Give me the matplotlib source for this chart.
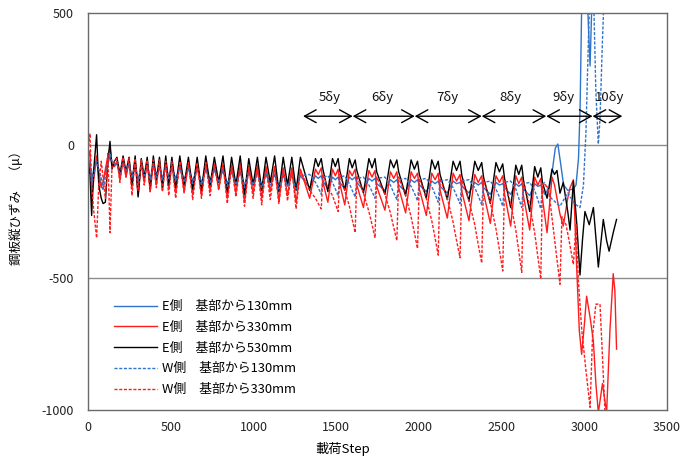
import matplotlib
matplotlib.use("Agg")
import matplotlib.pyplot as plt

plt.rcParams['font.family'] = ['Noto Sans CJK JP', 'DejaVu Sans']
plt.rcParams['axes.unicode_minus'] = False

# ---- loading steps: early small-amplitude cycles (shared by all gauges) ----
steps_early = [0, 12, 22, 35, 52, 65, 80, 91, 105, 120, 133, 145, 160,
               175, 193, 212, 230, 248, 266, 285, 303, 322, 340, 358, 376, 395, 413, 432, 450, 470, 488, 507, 530,
               555, 581, 607, 633, 660, 686, 712, 738, 764, 790, 816, 842, 868, 894, 920, 946, 972, 998,
               1024, 1050, 1076, 1102, 1128, 1154, 1180, 1206, 1232, 1258, 1284]

# ---- loading steps: 5δy–8δy cycles ----
steps_cyc = [1340, 1375, 1392, 1410, 1420,
             1450, 1478, 1495, 1512, 1522,
             1552, 1580, 1597, 1615, 1625,
             1665, 1698, 1717, 1735, 1745,
             1795, 1828, 1848, 1867, 1878,
             1920, 1953, 1973, 1992, 2003,
             2045, 2078, 2098, 2117, 2128,
             2172, 2207, 2228, 2249, 2260,
             2303, 2338, 2359, 2380, 2391,
             2432, 2466, 2487, 2507, 2518,
             2555, 2586, 2604, 2622, 2632,
             2670, 2700, 2719, 2737, 2747]

# ---- E side 130mm ----
e130_early = [-40, -80, -130, -90, -60, -100, -150, -140, -100, -70, -40, -70, -75,
              -70, -100, -70, -95, -75, -120, -70, -130, -80, -110, -75, -125, -80, -110, -80, -125, -80, -120, -85, -125,
              -85, -130, -85, -135, -90, -140, -90, -130, -95, -130, -95, -145, -100, -140, -100, -150, -105, -140,
              -105, -150, -110, -140, -110, -155, -115, -145, -115, -155, -115]
e130_cyc = [-160, -115, -125, -115, -135,
            -165, -120, -130, -120, -140,
            -165, -120, -130, -120, -140,
            -170, -125, -135, -125, -145,
            -170, -130, -140, -130, -150,
            -175, -130, -140, -130, -150,
            -175, -135, -145, -135, -155,
            -180, -135, -145, -140, -155,
            -180, -140, -150, -140, -160,
            -185, -140, -150, -145, -160,
            -185, -145, -155, -145, -165,
            -190, -145, -155, -150, -165]
e130_tail_steps = [2760, 2790, 2810, 2825, 2840, 2855, 2875, 2900, 2934, 2950, 2965, 2975, 2985, 3010, 3025, 3035, 3045, 3060]
e130_tail = [-185, -160, -80, -10, 5, -60, -150, -170, -165, -150, -50, 150, 560, 700, 450, 300, 520, 700]

# ---- E side 330mm ----
e330_early = [-50, -20, -200, -130, -40, -120, -160, -140, -90, -40, -10, -70, -80,
              -60, -130, -55, -120, -60, -160, -55, -190, -65, -140, -60, -175, -60, -150, -65, -170, -60, -165, -65, -180,
              -60, -175, -70, -185, -65, -190, -60, -170, -70, -165, -70, -200, -75, -180, -70, -215, -80, -180,
              -75, -200, -80, -175, -80, -210, -85, -190, -85, -215, -90]
e330_cyc = [-200, -90, -110, -85, -140,
            -215, -90, -115, -90, -145,
            -225, -95, -115, -90, -150,
            -235, -95, -120, -95, -155,
            -245, -100, -125, -100, -160,
            -255, -100, -125, -105, -165,
            -265, -105, -130, -105, -170,
            -275, -105, -135, -110, -175,
            -285, -110, -140, -115, -180,
            -295, -115, -140, -115, -185,
            -305, -115, -145, -120, -190,
            -320, -120, -150, -125, -200]
e330_tail_steps = [2775, 2805, 2820, 2835, 2853, 2873, 2900, 2914, 2934, 2954, 2970, 2984, 3000, 3014, 3035,
                   3055, 3070, 3085, 3110, 3135, 3155, 3175, 3185, 3195]
e330_tail = [-330, -120, -150, -200, -260, -305, -200, -160, -130, -460, -700, -790, -680, -570, -650,
             -740, -900, -1010, -900, -1010, -700, -485, -550, -770]

# ---- E side 530mm ----
e530_early = [-60, -110, -265, -90, 40, -150, -200, -220, -215, -60, 15, -90, -60,
              -45, -110, -40, -100, -45, -150, -40, -195, -50, -120, -45, -165, -40, -130, -45, -160, -40, -150, -45, -160,
              -40, -150, -45, -165, -45, -170, -40, -150, -45, -140, -40, -175, -45, -150, -40, -185, -50, -150,
              -45, -170, -45, -140, -40, -175, -45, -150, -45, -170, -45]
e530_cyc = [-170, -50, -80, -50, -90,
            -175, -50, -80, -50, -95,
            -170, -50, -85, -55, -95,
            -180, -50, -85, -50, -100,
            -185, -55, -85, -55, -100,
            -190, -55, -90, -60, -110,
            -200, -55, -90, -60, -110,
            -205, -60, -95, -60, -115,
            -210, -60, -95, -65, -120,
            -220, -65, -100, -70, -125,
            -235, -75, -110, -75, -130,
            -250, -80, -120, -85, -140]
e530_tail_steps = [2775, 2805, 2820, 2835, 2853, 2873, 2900, 2914, 2934, 2955, 2974, 2990, 3004, 3030, 3055,
                   3085, 3115, 3135, 3150, 3175, 3195]
e530_tail = [-200, -90, -110, -95, -181, -140, -250, -320, -135, -300, -490, -350, -250, -300, -235,
             -460, -280, -360, -400, -330, -280]

# ---- W side 130mm ----
w130_early = [-40, -60, -150, -110, -60, -90, -120, -170, -120, -70, -30, -60, -70,
              -70, -110, -65, -100, -70, -125, -70, -135, -75, -115, -75, -130, -75, -120, -80, -130, -80, -125, -80, -135,
              -80, -140, -85, -145, -85, -150, -90, -140, -90, -140, -95, -155, -95, -150, -100, -160, -100, -150,
              -105, -160, -105, -150, -110, -165, -110, -155, -115, -165, -115]
w130_cyc = [-110, -140, -160, -185, -120,
            -115, -140, -165, -190, -120,
            -115, -145, -170, -195, -125,
            -120, -150, -175, -200, -125,
            -120, -150, -180, -205, -130,
            -125, -155, -180, -210, -130,
            -125, -155, -185, -215, -135,
            -130, -160, -190, -220, -135,
            -130, -160, -190, -225, -140,
            -135, -165, -195, -230, -140,
            -135, -165, -200, -235, -145,
            -140, -170, -205, -240, -150]
w130_tail_steps = [2760, 2800, 2853, 2900, 2940, 2974, 2995, 3010, 3025, 3035, 3045, 3055, 3070, 3085, 3095, 3110, 3125]
w130_tail = [-140, -200, -230, -180, -220, -235, -150, 50, 400, 600, 650, 600, 200, 5, 100, 400, 650]

# ---- W side 330mm ----
w330_early = [-20, 45, -150, -250, -350, -150, -60, -120, -200, -30, -330, -80, -60,
              -50, -140, -45, -120, -50, -190, -50, -170, -55, -150, -55, -175, -55, -160, -55, -175, -60, -190, -60, -200,
              -60, -180, -65, -205, -65, -200, -65, -190, -70, -170, -70, -220, -75, -195, -75, -230, -80, -200,
              -80, -225, -85, -205, -85, -220, -90, -210, -90, -240, -95]
w330_cyc = [-170, -200, -220, -240, -110,
            -160, -190, -220, -250, -110,
            -170, -230, -280, -330, -115,
            -180, -250, -300, -350, -120,
            -185, -255, -310, -360, -120,
            -190, -270, -330, -390, -125,
            -200, -285, -350, -415, -125,
            -200, -290, -360, -425, -130,
            -210, -300, -375, -445, -130,
            -215, -315, -395, -475, -135,
            -220, -320, -400, -480, -140,
            -225, -330, -420, -505, -145]
w330_tail_steps = [2760, 2783, 2810, 2853, 2865, 2890, 2914, 2934, 2950, 2964, 2985, 3010, 3035, 3050, 3070, 3095, 3110, 3125]
w330_tail = [-150, -160, -300, -525, -270, -300, -380, -450, -300, -510, -700, -850, -990, -720, -600, -600, -800, -1010]

# ---- loading amplitude stages ----
stage_bounds = [1300, 1600, 1975, 2380, 2770, 3050, 3230]
stage_labels = ['5δy', '6δy', '7δy', '8δy', '9δy', '10δy']
stage_label_x = [1463, 1777, 2170, 2551, 2871, 3155]

series_labels = ['E側\u3000基部から130mm', 'E側\u3000基部から330mm', 'E側\u3000基部から530mm',
                 'W側\u3000基部から130mm', 'W側\u3000基部から330mm']

BLUE = '#2f74c8'
RED = '#ff1c1c'
BLACK = '#000000'
DOT = (0, (2.2, 1.2))

fig = plt.figure(figsize=(6.99, 4.58), dpi=100)
ax = fig.add_axes([88 / 699, 1 - 410 / 458, 579 / 699, 397 / 458])

def full(early, cyc, tail_steps, tail):
    return steps_early + steps_cyc + tail_steps, early + cyc + tail

series = [
    (e130_early, e130_cyc, e130_tail_steps, e130_tail, BLUE, '-'),
    (e330_early, e330_cyc, e330_tail_steps, e330_tail, RED, '-'),
    (e530_early, e530_cyc, e530_tail_steps, e530_tail, BLACK, '-'),
    (w130_early, w130_cyc, w130_tail_steps, w130_tail, BLUE, DOT),
    (w330_early, w330_cyc, w330_tail_steps, w330_tail, RED, DOT),
]

ax.axhline(0, color='#8c8c8c', lw=1.0, zorder=1)
ax.axhline(-500, color='#8c8c8c', lw=1.0, zorder=1)

for (early, cyc, ts, tv, col, ls), lab in zip(series, series_labels):
    xs, ys = full(early, cyc, ts, tv)
    ax.plot(xs, ys, color=col, ls=ls, lw=1.0, label=lab, zorder=2)

ax.set_xlim(0, 3500)
ax.set_ylim(-1000, 500)
ax.set_xticks(range(0, 3501, 500))
ax.set_yticks([-1000, -500, 0, 500])
ax.tick_params(length=0, labelsize=9, colors='#222222')
ax.tick_params(axis='x', pad=8)
ax.tick_params(axis='y', pad=10)
for sp in ax.spines.values():
    sp.set_color('#6a6a6a')
    sp.set_linewidth(1.0)

# stage arrows
arrow_y = 110
for b0, b1 in zip(stage_bounds[:-1], stage_bounds[1:]):
    ax.annotate('', xy=(b1, arrow_y), xytext=(b0, arrow_y),
                arrowprops=dict(arrowstyle='<->,head_length=0.6,head_width=0.33',
                                color='black', lw=1.0, shrinkA=0, shrinkB=0,
                                mutation_scale=14), zorder=3)
for lx, lab in zip(stage_label_x, stage_labels):
    ax.text(lx, 180, lab, ha='center', va='center', fontsize=9.5, color='#111111')

leg = ax.legend(loc='upper left', bbox_to_anchor=(0.045, 0.277), frameon=False,
                fontsize=9.3, handlelength=3.3, handletextpad=0.4,
                labelspacing=0.6, borderaxespad=0, borderpad=0)

fig.text(16 / 699, 1 - 205 / 458, '鋼板縦ひずみ\u3000（μ）', rotation=90,
         ha='center', va='center', fontsize=9)
fig.text(343 / 699, 1 - 449 / 458, '載荷Step', ha='center', va='center', fontsize=9.5)

fig.savefig('out.png', dpi=100)
